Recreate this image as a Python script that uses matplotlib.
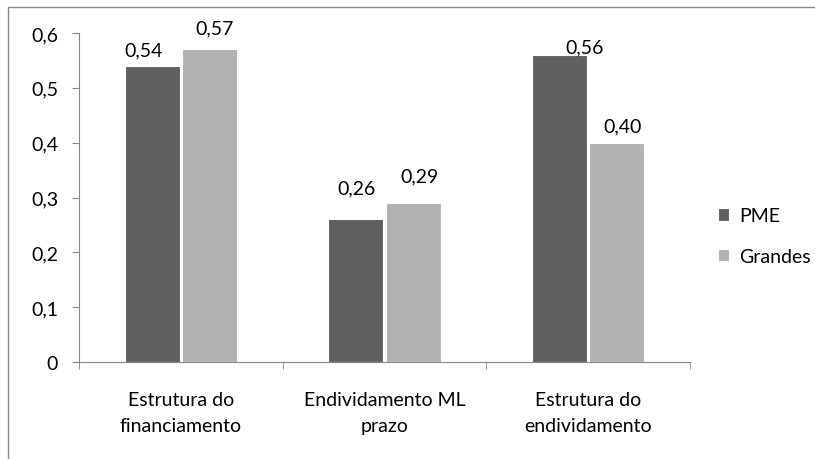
import matplotlib
matplotlib.use("Agg")
import matplotlib.pyplot as plt
from matplotlib.patches import Rectangle
import numpy as np

plt.rcParams['font.family'] = ['Lato', 'DejaVu Sans']

categories = ["Estrutura do\nfinanciamento", "Endividamento ML\nprazo", "Estrutura do\nendividamento"]
pme = [0.54, 0.26, 0.56]
grandes = [0.57, 0.29, 0.40]
series_names = ["PME", "Grandes"]
yticks = [0, 0.1, 0.2, 0.3, 0.4, 0.5, 0.6]

dark = "#606060"
light = "#b2b2b2"
axis_col = "#868686"
fs = 14

fig = plt.figure(figsize=(8.15, 4.6), dpi=100)
ax = fig.add_axes([79/815, 1 - 363/460, (690 - 79)/815, (363 - 34)/460])

x = np.arange(len(categories))
w = 0.27
b1 = ax.bar(x - w/2 - 0.005, pme, w, color=dark, edgecolor="white", linewidth=0.8, label=series_names[0])
b2 = ax.bar(x + w/2 + 0.005, grandes, w, color=light, edgecolor="white", linewidth=0.8, label=series_names[1])

# label offsets in pixels (dx, dy) to mimic the manual placement
off1 = [(-9, 16), (1, 32), (25, 8)]
off2 = [(5, 22), (6, 27), (6, 17)]
for bars, vals, offs in ((b1, pme, off1), (b2, grandes, off2)):
    for r, v, (dx, dy) in zip(bars, vals, offs):
        ax.annotate(f"{v:.2f}".replace(".", ","), (r.get_x() + r.get_width()/2, v),
                    xytext=(dx, dy), textcoords="offset pixels",
                    ha="center", va="center", fontsize=fs)

ax.set_xlim(-0.5, len(categories) - 0.5)
ax.set_ylim(0, 0.6)
ax.set_yticks(yticks)
ax.set_yticklabels(["0" if t == 0 else f"{t:.1f}".replace(".", ",") for t in yticks])
ax.set_xticks(x)
ax.set_xticklabels(categories, fontsize=fs, linespacing=1.6)
ax.set_xticks(np.arange(-0.5, len(categories)), minor=True)
ax.tick_params(axis="x", which="major", length=0, pad=21)
ax.tick_params(axis="x", which="minor", length=5, color=axis_col, direction="out")
ax.tick_params(axis="y", length=5, color=axis_col, labelsize=fs, pad=10)

for s in ("top", "right"):
    ax.spines[s].set_visible(False)
for s in ("left", "bottom"):
    ax.spines[s].set_color(axis_col)

ax.legend(loc="center left", bbox_to_anchor=(700/815, 1 - 237/460), bbox_transform=fig.transFigure,
          frameon=False, fontsize=fs, handlelength=0.6, handleheight=0.6,
          labelspacing=1.2, handletextpad=0.5)

fig.patches.append(Rectangle((8/815, -0.1), 1.2, 1.1 - 8/460, transform=fig.transFigure,
                             fill=False, edgecolor=axis_col, linewidth=1))

fig.savefig("out.png", dpi=100)
